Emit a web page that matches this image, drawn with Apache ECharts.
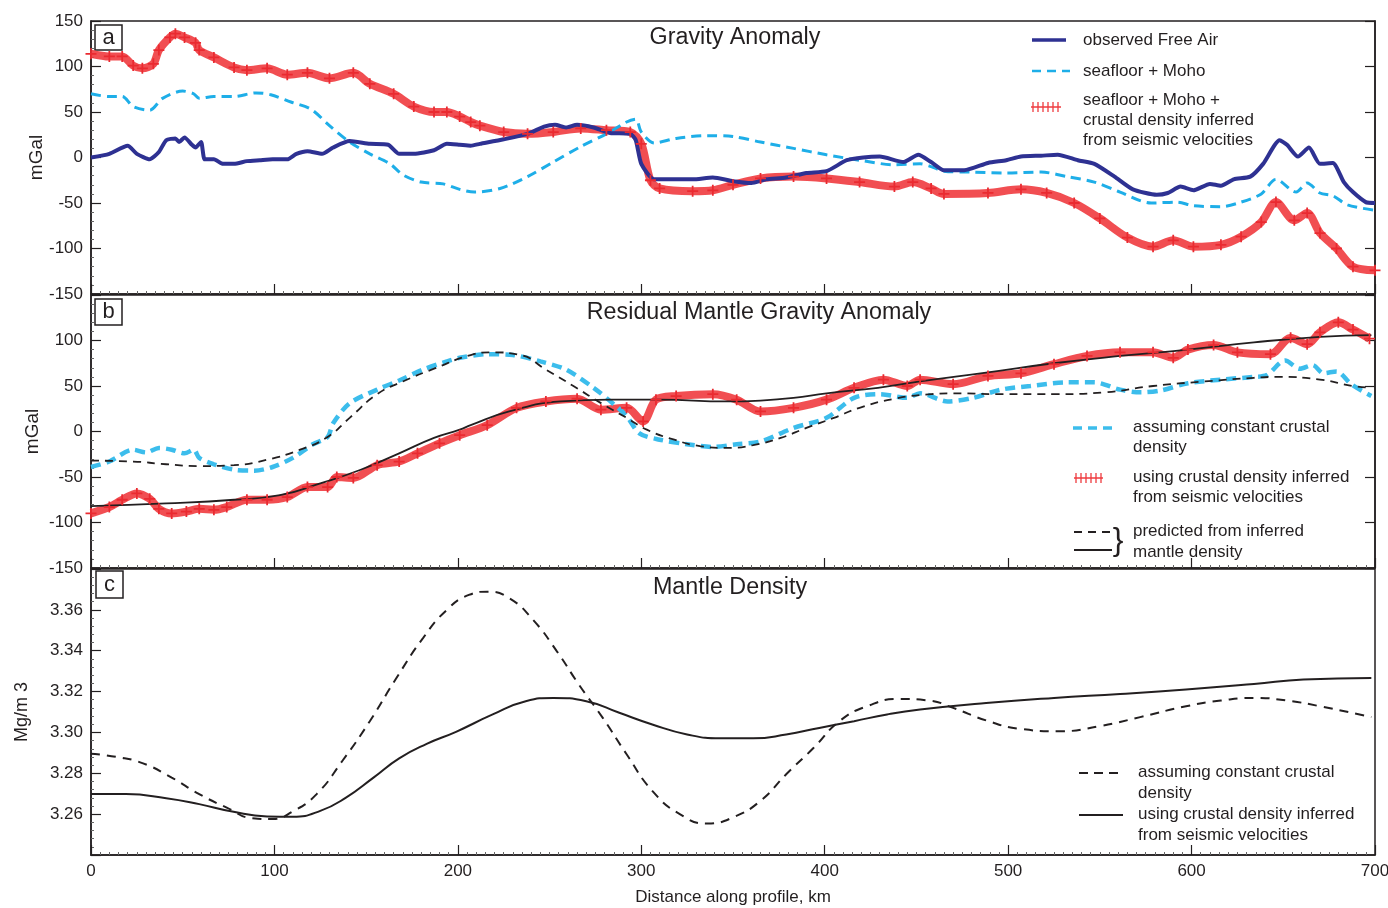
<!DOCTYPE html>
<html>
<head>
<meta charset="utf-8">
<title>Gravity anomaly and mantle density profile</title>
<script src="https://cdn.jsdelivr.net/npm/echarts@6/dist/echarts.min.js"></script>
<style>
  html, body { margin: 0; padding: 0; background: #fff; }
  #chart { width: 1388px; height: 908px; }
</style>
</head>
<body>
<div id="chart"></div>
<script>
// ---- panel a: gravity anomaly, mGal ----
const freeAirKm = [0, 10, 20, 25, 32, 37, 41, 46, 48, 51, 55, 57, 60, 62, 67, 72, 78, 85, 92, 99, 107, 112, 118, 126, 132, 141, 152, 162, 168, 176, 187, 194, 201, 207, 212, 225, 238, 247, 253, 259, 265, 274, 283, 294, 297, 300, 307, 316, 328, 339, 350, 360, 368, 379, 390, 401, 412, 421, 430, 443, 451, 458, 465, 476, 489, 499, 507, 518, 527, 538, 547, 558, 568, 581, 587, 594, 601, 610, 616, 623, 632, 639, 648, 652, 658, 664, 670, 677, 683, 688, 695, 700]
const freeAir = [0, 4, 13, 4, -2, 6, 19, 21, 17, 22, 14, 11, 17, -2, -2, -7, -7, -4, -3, -2, -2, 4, 7, 4, 11, 18, 15, 14, 4, 4, 8, 15, 14, 13, 15, 20, 26, 34, 36, 33, 36, 33, 27, 26, 19, -7, -24, -24, -24, -22, -26, -28, -24, -22, -17, -15, -3, 0, 1, -5, 3, -5, -14, -14, -6, -3, 1, 2, 3, -3, -7, -21, -35, -41, -39, -32, -36, -29, -31, -24, -21, -7, 19, 14, 1, 11, -7, -6, -27, -38, -49, -50]

const seafloorKm = [0, 10, 17, 23, 32, 39, 50, 56, 59, 67, 78, 90, 98, 109, 120, 130, 141, 152, 163, 170, 180, 192, 201, 209, 223, 238, 252, 267, 281, 292, 297, 300, 307, 319, 336, 350, 365, 383, 401, 419, 438, 452, 458, 465, 479, 499, 518, 532, 547, 561, 578, 592, 601, 616, 627, 638, 646, 657, 663, 670, 677, 685, 700]
const seafloor = [70, 67, 67, 56, 52, 65, 73, 70, 65, 67, 67, 71, 69, 61, 53, 35, 17, 4, -7, -19, -27, -29, -35, -38, -34, -21, -5, 12, 26, 39, 42, 28, 16, 21, 24, 23, 17, 10, 3, -3, -8, -7, -10, -15, -16, -17, -16, -21, -27, -38, -50, -49, -53, -54, -49, -40, -24, -38, -28, -39, -42, -52, -58]

const crustKm = [0, 10, 17, 23, 28, 34, 37, 43, 46, 51, 57, 59, 67, 78, 85, 96, 107, 118, 130, 143, 152, 165, 176, 187, 194, 201, 207, 212, 225, 238, 252, 267, 281, 294, 300, 305, 310, 328, 339, 350, 365, 383, 401, 419, 438, 448, 458, 465, 489, 507, 521, 536, 550, 565, 579, 590, 601, 616, 627, 638, 646, 656, 663, 670, 679, 688, 700]
const crust = [114, 111, 111, 101, 98, 103, 118, 132, 136, 132, 126, 118, 110, 99, 96, 98, 91, 93, 87, 93, 81, 70, 56, 50, 50, 45, 39, 35, 28, 26, 28, 32, 30, 28, 15, -25, -34, -37, -36, -30, -23, -21, -23, -27, -32, -27, -34, -40, -39, -35, -39, -50, -67, -88, -98, -91, -98, -96, -87, -71, -49, -69, -61, -83, -100, -120, -124]

// ---- panel b: residual mantle gravity anomaly, mGal ----
const residConstKm = [0, 10, 23, 30, 37, 44, 51, 56, 59, 67, 78, 89, 99, 110, 121, 129, 132, 141, 156, 168, 181, 194, 201, 216, 230, 245, 259, 274, 285, 292, 299, 310, 325, 339, 352, 365, 383, 401, 416, 430, 445, 452, 467, 481, 496, 512, 532, 547, 561, 572, 583, 598, 616, 634, 641, 651, 659, 666, 672, 679, 687, 698]
const residConst = [-39, -33, -20, -23, -18, -20, -24, -20, -29, -36, -42, -43, -39, -29, -14, -6, 9, 31, 46, 56, 68, 77, 81, 85, 84, 77, 68, 48, 30, 17, -2, -9, -14, -17, -14, -11, 4, 15, 37, 41, 37, 42, 33, 37, 46, 50, 54, 54, 46, 43, 45, 53, 57, 60, 62, 78, 69, 73, 64, 66, 52, 39]

const residSeisKm = [0, 10, 17, 25, 32, 37, 44, 52, 59, 67, 74, 85, 96, 107, 118, 129, 134, 143, 156, 168, 178, 190, 201, 216, 232, 248, 265, 278, 292, 301, 308, 319, 339, 352, 365, 383, 401, 416, 432, 445, 452, 470, 489, 507, 525, 543, 561, 579, 590, 598, 612, 625, 643, 654, 663, 670, 680, 688, 697]
const residSeis = [-90, -83, -75, -68, -74, -85, -90, -88, -85, -86, -83, -75, -75, -72, -61, -61, -50, -51, -37, -33, -24, -13, -4, 7, 26, 33, 36, 24, 26, 11, 35, 39, 41, 35, 22, 26, 35, 48, 57, 50, 57, 52, 61, 64, 74, 83, 87, 87, 81, 90, 95, 87, 85, 103, 96, 109, 120, 112, 102]

const predDashKm = [0, 23, 41, 59, 78, 96, 114, 129, 141, 156, 170, 187, 207, 218, 234, 248, 263, 279, 292, 303, 318, 332, 347, 361, 376, 390, 405, 419, 438, 458, 470, 497, 525, 552, 579, 607, 634, 647, 670, 688, 698]
const predDash = [-32, -33, -36, -38, -37, -31, -20, -6, 15, 41, 55, 69, 84, 87, 84, 68, 50, 30, 15, 2, -9, -16, -18, -15, -7, 4, 15, 26, 36, 41, 42, 41, 41, 43, 50, 55, 59, 60, 57, 50, 48]

const predSolidKm = [0, 41, 78, 103, 125, 147, 168, 187, 201, 207, 228, 256, 283, 310, 347, 365, 383, 401, 429, 452, 489, 525, 561, 598, 634, 670, 698]
const predSolid = [-82, -79, -75, -70, -57, -42, -24, -7, 2, 7, 22, 33, 35, 35, 33, 34, 37, 42, 48, 55, 65, 75, 83, 90, 98, 104, 106]

// ---- panel c: mantle density, Mg/m3 ----
const densConstKm = [0, 14, 28, 44, 59, 74, 88, 99, 110, 123, 137, 152, 166, 181, 194, 206, 216, 228, 241, 254, 266, 279, 292, 306, 321, 336, 350, 365, 379, 394, 408, 423, 441, 457, 470, 488, 506, 528, 550, 572, 597, 616, 634, 652, 670, 698]
const densConst = [3.2896, 3.288, 3.285, 3.2779, 3.2698, 3.2632, 3.258, 3.2576, 3.2613, 3.2698, 3.286, 3.3055, 3.3259, 3.3462, 3.36, 3.3673, 3.3689, 3.3657, 3.3551, 3.3397, 3.3234, 3.3071, 3.2893, 3.2714, 3.26, 3.2554, 3.2584, 3.2665, 3.2795, 3.2925, 3.3055, 3.3128, 3.3164, 3.3156, 3.312, 3.3059, 3.3018, 3.3006, 3.3031, 3.3075, 3.3128, 3.3156, 3.3169, 3.3156, 3.3128, 3.3075]

const densSeisKm = [0, 19, 41, 59, 77, 96, 110, 125, 139, 154, 168, 183, 199, 219, 237, 252, 270, 288, 306, 325, 343, 361, 379, 397, 416, 434, 452, 488, 525, 561, 597, 634, 661, 698]
const densSeis = [3.2698, 3.2698, 3.2678, 3.2649, 3.2613, 3.2589, 3.2587, 3.2616, 3.2681, 3.2779, 3.2873, 3.2944, 3.3003, 3.3088, 3.3153, 3.3169, 3.3153, 3.3096, 3.3039, 3.299, 3.2971, 3.2971, 3.299, 3.3022, 3.3055, 3.3088, 3.3112, 3.3144, 3.3169, 3.3188, 3.321, 3.3237, 3.3259, 3.3267]

const xTicks = [0, 100, 200, 300, 400, 500, 600, 700]

const FONT = "'Liberation Sans', Arial, Helvetica, sans-serif"
const INK = '#231f20'
const NAVY = '#2e3192'
const CYAN = '#1eaee8'
const CYAN_B = '#3cbdec'
const RED = '#ef3b3f'
const PLUS = 'path://M4.2,0H5.8V4.2H10V5.8H5.8V10H4.2V5.8H0V4.2H4.2Z'

const pairs = (xs, ys) => xs.map((x, i) => [x, ys[i]])

function xAxisFor(gridIndex, showLabels) {
  return {
    type: 'value', gridIndex, min: xTicks[0], max: xTicks[xTicks.length - 1], interval: 100,
    axisLine: { show: true, onZero: false, lineStyle: { color: INK, width: 1.5 } },
    axisTick: { show: true, inside: true, length: 10, lineStyle: { color: INK, width: 1.2 } },
    minorTick: { show: true, splitNumber: 20, length: 3, lineStyle: { color: '#666', width: 1 } },
    splitLine: { show: false },
    axisLabel: { show: showLabels, color: INK, fontSize: 17, fontFamily: FONT, margin: 8 },
    name: showLabels ? 'Distance along profile, km' : '',
    nameLocation: 'middle', nameGap: 34, nameMoveOverlap: false,
    nameTextStyle: { color: INK, fontSize: 17, fontFamily: FONT }
  }
}

function yLeft(gridIndex, min, max, interval, name, nameGap, nameSize, fmt) {
  return {
    type: 'value', gridIndex, min, max, interval, position: 'left',
    axisLine: { show: true, onZero: false, lineStyle: { color: INK, width: 1.5 } },
    axisTick: { show: true, inside: true, length: 10, lineStyle: { color: INK, width: 1.2 } },
    minorTick: { show: true, splitNumber: 5, length: 3, lineStyle: { color: '#666', width: 1 } },
    splitLine: { show: false },
    axisLabel: { color: INK, fontSize: 17, fontFamily: FONT, margin: 8, formatter: fmt, showMinLabel: true, showMaxLabel: true },
    name, nameLocation: 'middle', nameGap, nameMoveOverlap: false,
    nameTextStyle: { color: INK, fontSize: nameSize, fontFamily: FONT }
  }
}

function yRight(gridIndex, min, max, interval) {
  return {
    type: 'value', gridIndex, min, max, interval, position: 'right',
    axisLine: { show: true, onZero: false, lineStyle: { color: INK, width: 1.5 } },
    axisTick: { show: true, inside: true, length: 10, lineStyle: { color: INK, width: 1.2 } },
    splitLine: { show: false },
    axisLabel: { show: false }
  }
}

function lineSeries(name, xi, yi, data, color, width, dash, extra) {
  return Object.assign({
    name, type: 'line', xAxisIndex: xi, yAxisIndex: yi, data,
    showSymbol: false, symbol: 'none', smooth: 0.3, clip: true,
    lineStyle: { color, width, type: dash || 'solid', cap: 'butt' },
    itemStyle: { color },
    emphasis: { disabled: true }
  }, extra || {})
}

function plusSeries(name, xi, yi, data) {
  return lineSeries(name, xi, yi, data, RED, 8, null, {
    symbol: PLUS, showSymbol: true, symbolSize: 11,
    lineStyle: { color: 'rgba(239, 59, 63, 0.9)', width: 8 },
    itemStyle: { color: '#ea2a30' }
  })
}

// graphic helpers for the hand-laid legends and panel letters
function hLine(x1, x2, y, stroke, lineWidth, lineDash) {
  return { type: 'line', shape: { x1, y1: y, x2, y2: y }, style: { stroke, lineWidth, lineDash: lineDash || null }, silent: true }
}
function plusIcon(x1, x2, y) {
  const kids = [hLine(x1, x2, y, RED, 1.5)]
  for (let x = x1 + 2; x < x2; x += 5) {
    kids.push({ type: 'line', shape: { x1: x, y1: y - 5, x2: x, y2: y + 5 }, style: { stroke: RED, lineWidth: 1.3 }, silent: true })
  }
  return { type: 'group', children: kids }
}
function label(x, top, text, lineHeight) {
  return { type: 'text', x, y: top, silent: true,
    style: { text, fill: INK, fontSize: 17, fontFamily: FONT, lineHeight: lineHeight || 20, verticalAlign: 'top' } }
}
function letterBox(x, y, w, h, letter) {
  return { type: 'group', children: [
    { type: 'rect', shape: { x, y, width: w, height: h }, style: { fill: '#fff', stroke: INK, lineWidth: 1.5 }, silent: true },
    { type: 'text', x: x + w / 2, y: y + h / 2, silent: true,
      style: { text: letter, fill: INK, fontSize: 22, fontFamily: FONT, align: 'center', verticalAlign: 'middle' } }
  ] }
}

const titleStyle = { fontSize: 23.3, fontWeight: 'normal', color: INK, fontFamily: FONT }

const chart = echarts.init(document.getElementById('chart'), null, { renderer: 'canvas' })
chart.setOption({
  animation: false,
  backgroundColor: '#fff',
  title: [
    { text: 'Gravity Anomaly', left: 735, top: 26, textAlign: 'center', padding: 0, textStyle: titleStyle },
    { text: 'Residual Mantle Gravity Anomaly', left: 759, top: 301, textAlign: 'center', padding: 0, textStyle: titleStyle },
    { text: 'Mantle Density', left: 730, top: 576, textAlign: 'center', padding: 0, textStyle: titleStyle }
  ],
  grid: [
    { left: 91, right: 13, top: 21, height: 273, show: true, borderColor: INK, borderWidth: 1.5, outerBoundsMode: 'none' },
    { left: 91, right: 13, top: 295, height: 273, show: true, borderColor: INK, borderWidth: 1.5, outerBoundsMode: 'none' },
    { left: 91, right: 13, top: 569, height: 286, show: true, borderColor: INK, borderWidth: 1.5, outerBoundsMode: 'none' }
  ],
  xAxis: [xAxisFor(0, false), xAxisFor(1, false), xAxisFor(2, true)],
  yAxis: [
    yLeft(0, -150, 150, 50, 'mGal', 45, 19, v => String(v)),
    yRight(0, -150, 150, 50),
    yLeft(1, -150, 150, 50, 'mGal', 49, 19, v => (v === 150 ? '' : String(v))),
    yRight(1, -150, 150, 50),
    yLeft(2, 3.24, 3.38, 0.02, 'Mg/m 3', 60, 18, v => (v < 3.25 || v > 3.37 ? '' : v.toFixed(2)))
  ],
  series: [
    // panel a
    plusSeries('seafloor + Moho + crustal density', 0, 0, pairs(crustKm, crust)),
    lineSeries('seafloor + Moho', 0, 0, pairs(seafloorKm, seafloor), CYAN, 3, [10, 6]),
    lineSeries('observed Free Air', 0, 0, pairs(freeAirKm, freeAir), NAVY, 4, null, { smooth: 0.2 }),
    // panel b
    plusSeries('using crustal density inferred', 1, 2, pairs(residSeisKm, residSeis)),
    lineSeries('assuming constant crustal density', 1, 2, pairs(residConstKm, residConst), CYAN_B, 4.5, [10, 6]),
    lineSeries('predicted (constant)', 1, 2, pairs(predDashKm, predDash), INK, 1.8, [8, 6], { smooth: 0.5 }),
    lineSeries('predicted (seismic)', 1, 2, pairs(predSolidKm, predSolid), INK, 1.8, null, { smooth: 0.5 }),
    // panel c
    lineSeries('density, constant crust', 2, 4, pairs(densConstKm, densConst), INK, 2, [9, 7], { smooth: 0.5 }),
    lineSeries('density, seismic crust', 2, 4, pairs(densSeisKm, densSeis), INK, 2, null, { smooth: 0.5 })
  ],
  graphic: [
    letterBox(95, 25, 27, 25, 'a'),
    letterBox(95, 299, 27, 26, 'b'),
    letterBox(96, 571, 27, 27, 'c'),
    // legend a
    hLine(1032, 1066, 40, NAVY, 3.5),
    label(1083, 30, 'observed Free Air'),
    hLine(1032, 1070, 71, CYAN, 2.5, [9, 6]),
    label(1083, 61, 'seafloor + Moho'),
    plusIcon(1031, 1061, 107),
    label(1083, 90, 'seafloor + Moho +\ncrustal density inferred\nfrom seismic velocities'),
    // legend b
    hLine(1073, 1112, 428, CYAN_B, 3.5, [9, 6]),
    label(1133, 417, 'assuming constant crustal\ndensity'),
    plusIcon(1074, 1103, 478),
    label(1133, 467, 'using crustal density inferred\nfrom seismic velocities'),
    hLine(1074, 1112, 532, INK, 1.8, [8, 6]),
    hLine(1074, 1112, 550, INK, 1.8),
    { type: 'text', x: 1118, y: 541, silent: true,
      style: { text: '}', fill: INK, fontSize: 32, fontFamily: FONT, align: 'center', verticalAlign: 'middle' } },
    label(1133, 521, 'predicted from inferred\nmantle density', 21),
    // legend c
    hLine(1079, 1122, 773, INK, 2, [9, 6]),
    label(1138, 762, 'assuming constant crustal\ndensity', 21),
    hLine(1079, 1123, 815, INK, 2),
    label(1138, 804, 'using crustal density inferred\nfrom seismic velocities', 21)
  ]
})
</script>
</body>
</html>
